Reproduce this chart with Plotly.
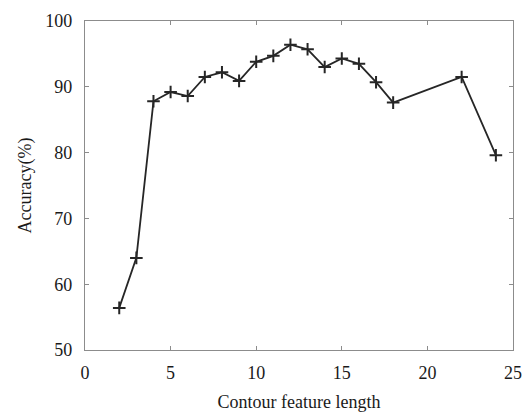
import plotly.graph_objects as go

feature_length = [2, 3, 4, 5, 6, 7, 8, 9, 10, 11, 12, 13, 14, 15, 16, 17, 18, 22, 24]
accuracy = [56.4, 64.0, 87.8, 89.2, 88.6, 91.5, 92.2, 90.9, 93.8, 94.7, 96.4, 95.7, 93.0, 94.3, 93.5, 90.7, 87.6, 91.5, 79.6]

x_ticks = [0, 5, 10, 15, 20, 25]
y_ticks = [50, 60, 70, 80, 90, 100]

font = dict(family="Liberation Serif", size=18, color="#1a1a1a")

fig = go.Figure()
fig.add_trace(go.Scatter(
    x=feature_length, y=accuracy, mode="lines+markers",
    line=dict(color="#262626", width=1.8),
    marker=dict(symbol="cross-thin", size=9, line=dict(color="#262626", width=2)),
    showlegend=False,
))

axis_common = dict(
    showgrid=False, zeroline=False, showline=True, linecolor="#8c8c8c", linewidth=1.3,
    mirror="ticks", ticks="inside", ticklen=4, tickcolor="#8c8c8c",
    tickfont=font, automargin=False,
)
fig.update_xaxes(range=[0, 25], tickvals=x_ticks, ticklabelstandoff=6,
                 title=dict(text="Contour feature length", font=font, standoff=14), **axis_common)
fig.update_yaxes(range=[50, 100], tickvals=y_ticks, ticklabelstandoff=8,
                 title=dict(text="Accuracy(%)", font=font, standoff=8), **axis_common)

fig.update_layout(
    width=530, height=412,
    margin=dict(l=85, r=17, t=21, b=62),
    paper_bgcolor="white", plot_bgcolor="white",
)
fig.write_html("out.html", config={"displayModeBar": False},
               post_script="document.body.style.margin='0';")
